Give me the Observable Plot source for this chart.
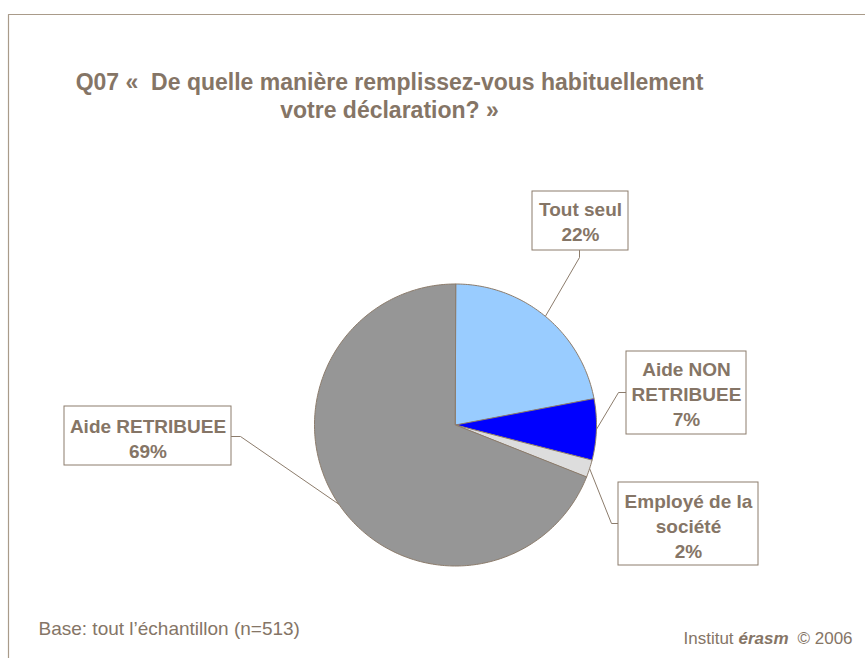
<!DOCTYPE html>
<html>
<head>
<meta charset="utf-8">
<script src="https://cdn.jsdelivr.net/npm/d3@7"></script>
<script src="https://cdn.jsdelivr.net/npm/@observablehq/plot@0.6"></script>
<style>
  html, body { margin: 0; padding: 0; background: #ffffff; }
  #chart svg { display: block; }
</style>
</head>
<body>
<div id="chart"></div>
<script>
// ---- data ----
const categories = ["Tout seul", "Aide NON RETRIBUEE", "Employé de la société", "Aide RETRIBUEE"];
const values = [22, 7, 2, 69];
const colors = ["#99ccff", "#0000ff", "#dddddd", "#969696"];
const labelLines = [["Tout seul"], ["Aide NON", "RETRIBUEE"], ["Employé de la", "société"], ["Aide RETRIBUEE"]];
const titleLines = ["Q07 «  De quelle manière remplissez-vous habituellement", "votre déclaration? »"];
const baseNote = "Base: tout l’échantillon (n=513)";
const credit = ["Institut ", "érasm", "© 2006"];

// ---- layout (pixels) ----
const W = 865, H = 658;
const cx = 455, cy = 424.5, R = 141;
const textColor = "#857566";
const lineColor = "#8c7c6c";
const font = "'Liberation Sans', Arial, Helvetica, sans-serif";
const boxes = [
  {x1: 532, x2: 628, y1: 191, y2: 250, tx: 580, b0: 215, elbow: [[579, 250], [579, 257]]},
  {x1: 626, x2: 746, y1: 351, y2: 434, tx: 686, b0: 375, elbow: [[626, 392], [618, 392]]},
  {x1: 618, x2: 758, y1: 482, y2: 565, tx: 688, b0: 507, elbow: [[618, 523], [611, 523]]},
  {x1: 64, x2: 231, y1: 406, y2: 465, tx: 147.5, b0: 432, elbow: [[231, 436], [240, 436]]}
];
const lineStep = 25;

// ---- geometry from data ----
const arcs = d3.pie().sort(null).value(d => d)(values);
const pt = a => ({x: cx + R * Math.sin(a), y: cy - R * Math.cos(a)});
const slicePts = [];
arcs.forEach((a, i) => {
  const cat = categories[i];
  slicePts.push({x: cx, y: cy, cat});
  const n = Math.max(2, Math.ceil((a.endAngle - a.startAngle) / (Math.PI / 180)) + 1);
  for (let k = 0; k < n; k++) {
    const ang = a.startAngle + (a.endAngle - a.startAngle) * k / (n - 1);
    slicePts.push({...pt(ang), cat});
  }
});

const leaderPts = [];
arcs.forEach((a, i) => {
  const cat = categories[i];
  boxes[i].elbow.forEach(([x, y]) => leaderPts.push({x, y, cat}));
  leaderPts.push({...pt((a.startAngle + a.endAngle) / 2), cat});
});

const labelTexts = [];
categories.forEach((c, i) => {
  const lines = [...labelLines[i], `${values[i]}%`];
  lines.forEach((t, j) => labelTexts.push({x: boxes[i].tx, y: boxes[i].b0 + j * lineStep, t}));
});

const titleTexts = titleLines.map((t, j) => ({x: 389, y: 89 + j * 28, t}));

const frame = [{x: 8, y: H, s: 0}, {x: 8, y: 14, s: 0}, {x: W, y: 14, s: 0}];

const chart = Plot.plot({
  width: W,
  height: H,
  margin: 0,
  x: {domain: [0, W], range: [0, W], axis: null},
  y: {domain: [0, H], range: [0, H], axis: null},
  color: {domain: categories, range: colors},
  style: {background: "#ffffff", fontFamily: font},
  marks: [
    Plot.line(frame, {x: "x", y: "y", stroke: "#a99b8a", strokeWidth: 1.2}),
    Plot.text(titleTexts, {x: "x", y: "y", text: "t", fontSize: 23, fontWeight: "bold", fill: textColor, textAnchor: "middle", lineAnchor: "bottom"}),
    Plot.line(leaderPts, {x: "x", y: "y", z: "cat", stroke: lineColor, strokeWidth: 1}),
    Plot.line(slicePts, {x: "x", y: "y", z: "cat", fill: "cat", stroke: lineColor, strokeWidth: 1, curve: "linear-closed"}),
    Plot.rect(boxes, {x1: "x1", x2: "x2", y1: "y1", y2: "y2", fill: "#ffffff", stroke: lineColor, strokeWidth: 1}),
    Plot.text(labelTexts, {x: "x", y: "y", text: "t", fontSize: 19, fontWeight: "bold", fill: textColor, textAnchor: "middle", lineAnchor: "bottom"}),
    Plot.text([baseNote], {x: 38, y: 634, text: d => d, fontSize: 19, fill: textColor, textAnchor: "start", lineAnchor: "bottom"}),
    Plot.text([credit[0]], {x: 683, y: 643, text: d => d, fontSize: 17, fill: textColor, textAnchor: "start", lineAnchor: "bottom"}),
    Plot.text([credit[1]], {x: 738, y: 643, text: d => d, fontSize: 17, fontWeight: "bold", fontStyle: "italic", fill: textColor, textAnchor: "start", lineAnchor: "bottom"}),
    Plot.text([credit[2]], {x: 797, y: 643, text: d => d, fontSize: 17, fill: textColor, textAnchor: "start", lineAnchor: "bottom"})
  ]
});
document.getElementById("chart").append(chart);
</script>
</body>
</html>
